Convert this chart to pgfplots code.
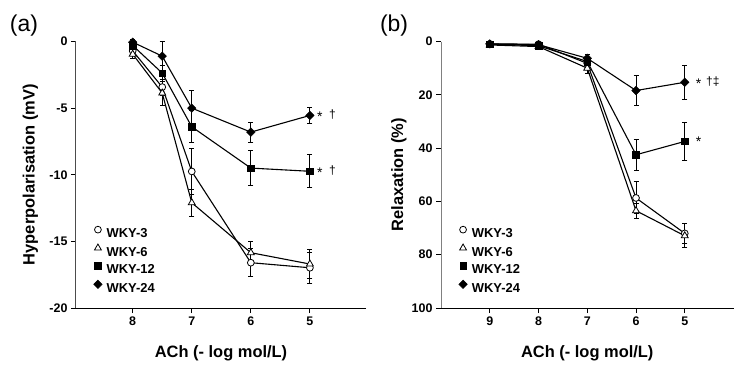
\documentclass[border=0pt]{standalone}
\usepackage{pgfplots}
\pgfplotsset{compat=1.18}
\usepackage{fontspec}
\setmainfont{Liberation Sans}
\newcommand{\tfont}{\bfseries\fontsize{12.5}{14}\selectfont}
\newcommand{\lfont}{\bfseries\fontsize{16.5}{19}\selectfont}
\newcommand{\gfont}{\bfseries\fontsize{13}{15}\selectfont}
\newcommand{\afont}{\fontsize{12}{14}\selectfont}
\newcommand{\myast}{\raisebox{-0.45ex}{\fontsize{14}{14}\selectfont *}}
\pgfplotsset{
  panel/.style={
    scale only axis, height=266.5bp,
    axis x line*=bottom, axis y line*=left,
    axis line style={-, line width=1bp},
    tick align=outside, major tick length=5bp,
    tick style={line width=0.9bp, black},
    ticklabel style={font=\tfont},
    /pgf/number format/assume math mode=true,
    xlabel style={font=\lfont, anchor=center},
    ylabel style={font=\lfont, anchor=center},
    legend style={draw=none, fill=none, font=\gfont, anchor=north west,
      row sep=4.6bp, column sep=0bp, nodes={inner xsep=4.5bp, inner ysep=0bp}},
    legend cell align=left,
    every axis plot/.append style={line width=1.1bp, black},
    error bars/y dir=both, error bars/y explicit,
    error bars/error bar style={line width=0.9bp, black},
    error bars/error mark options={rotate=90, mark size=2.5bp, line width=0.9bp, black},
  },
  s3/.style={black, mark=*, mark size=3.4bp, mark options={fill=white, draw=black, line width=0.8bp},
    legend image code/.code={\draw[##1] plot[only marks] coordinates {(0bp,4.5bp)};}},
  s6/.style={black, mark=triangle*, mark size=4bp, mark options={fill=white, draw=black, line width=0.8bp},
    legend image code/.code={\draw[##1] plot[only marks] coordinates {(0bp,4.5bp)};}},
  s12/.style={black, mark=square*, mark size=3.3bp, mark options={fill=black, draw=black, line width=0.5bp},
    legend image code/.code={\draw[##1] plot[only marks] coordinates {(0bp,4.5bp)};}},
  s24/.style={black, mark=square*, mark size=3bp, mark options={rotate=45, fill=black, draw=black, line width=0.5bp},
    legend image code/.code={\draw[##1] plot[only marks] coordinates {(0bp,4.5bp)};}},
}
\begin{document}
\begin{tikzpicture}[x=1bp, y=1bp]
\useasboundingbox (0,0) rectangle (746,370);
\node[font=\fontsize{23}{26}\selectfont] at (24,344) {(a)};
\node[font=\fontsize{23}{26}\selectfont] at (394,344) {(b)};
% ---------------- panel (a)
\begin{axis}[panel, at={(76bp,62bp)}, anchor=south west, width=290bp,
  x dir=reverse, xmin=4.05, xmax=8.96, ymin=-20, ymax=0,
  xtick={5,6,7,8}, xticklabels={5,6,7,8},
  ytick={-20,-15,-10,-5,0}, yticklabels={-20,-15,-10,-5,0},
  y axis line style={black!70},
  xlabel={ACh (- log mol/L)}, ylabel={Hyperpolarisation (mV)},
  xlabel style={at={(axis description cs:0.5,-0.169)}},
  ylabel style={at={(axis description cs:-0.157,0.5)}},
  legend style={at={(axis description cs:0.05,0.315)}},
  clip=false]
\addplot[s3] coordinates {(8,-0.7) +- (0,0.3) (7.5,-3.42) +- (0,0.6) (7,-9.75) +- (0,1.7) (6,-16.6) +- (0,1.05) (5,-16.98) +- (0,1.15)};
\addlegendentry{WKY-3}
\addplot[s6] coordinates {(8,-0.95) +- (0,0.3) (7.5,-3.87) +- (0,0.9) (7,-12.1) +- (0,1.0) (6,-15.85) +- (0,0.85) (5,-16.7) +- (0,1.1)};
\addlegendentry{WKY-6}
\addplot[s12] coordinates {(8,-0.3) +- (0,0.2) (7.5,-2.37) +- (0,0.6) (7,-6.4) +- (0,1.2) (6,-9.5) +- (0,1.3) (5,-9.74) +- (0,1.25)};
\addlegendentry{WKY-12}
\addplot[s24] coordinates {(8,-0.05) +- (0,0.2) (7.5,-1.1) +- (0,1.1) (7,-5.0) +- (0,1.3) (6,-6.8) +- (0,0.75) (5,-5.55) +- (0,0.6)};
\addlegendentry{WKY-24}
\node[anchor=west, font=\afont, inner sep=0pt, xshift=7bp] at (axis cs:5,-5.55) {\myast\hspace{0.55em}†};
\node[anchor=west, font=\afont, inner sep=0pt, xshift=7bp] at (axis cs:5,-9.74) {\myast\hspace{0.55em}†};
\end{axis}
% ---------------- panel (b)
\begin{axis}[panel, at={(441bp,62bp)}, anchor=south west, width=292.5bp,
  x dir=reverse, y dir=reverse, xmin=4, xmax=10, ymin=0, ymax=100,
  xtick={5,6,7,8,9}, xticklabels={5,6,7,8,9},
  ytick={0,20,40,60,80,100}, yticklabels={0,20,40,60,80,100},
  y axis line style={black!50},
  xlabel={ACh (- log mol/L)}, ylabel={Relaxation (\%)},
  xlabel style={at={(axis description cs:0.5,-0.169)}},
  ylabel style={at={(axis description cs:-0.144,0.5)}},
  legend style={at={(axis description cs:0.05,0.315)}},
  clip=false]
\addplot[s3] coordinates {(9,0.9) +- (0,0.5) (8,1.0) +- (0,0.5) (7,8.2) +- (0,1.5) (6,58.7) +- (0,6) (5,72) +- (0,3.8)};
\addlegendentry{WKY-3}
\addplot[s6] coordinates {(9,1.3) +- (0,0.5) (8,1.9) +- (0,0.5) (7,10) +- (0,2) (6,63.5) +- (0,2.8) (5,72.9) +- (0,4.5)};
\addlegendentry{WKY-6}
\addplot[s12] coordinates {(9,1.0) +- (0,0.5) (8,1.6) +- (0,0.5) (7,7.5) +- (0,1.5) (6,42.5) +- (0,5.7) (5,37.5) +- (0,7)};
\addlegendentry{WKY-12}
\addplot[s24] coordinates {(9,0.9) +- (0,0.5) (8,1.2) +- (0,0.5) (7,6.3) +- (0,1.5) (6,18.4) +- (0,5.6) (5,15.3) +- (0,6.5)};
\addlegendentry{WKY-24}
\node[anchor=west, font=\afont, inner sep=0pt, xshift=11bp] at (axis cs:5,15.3) {\myast\hspace{0.4em}†‡};
\node[anchor=west, font=\afont, inner sep=0pt, xshift=11bp] at (axis cs:5,37.5) {\myast};
\end{axis}
\end{tikzpicture}
\end{document}
